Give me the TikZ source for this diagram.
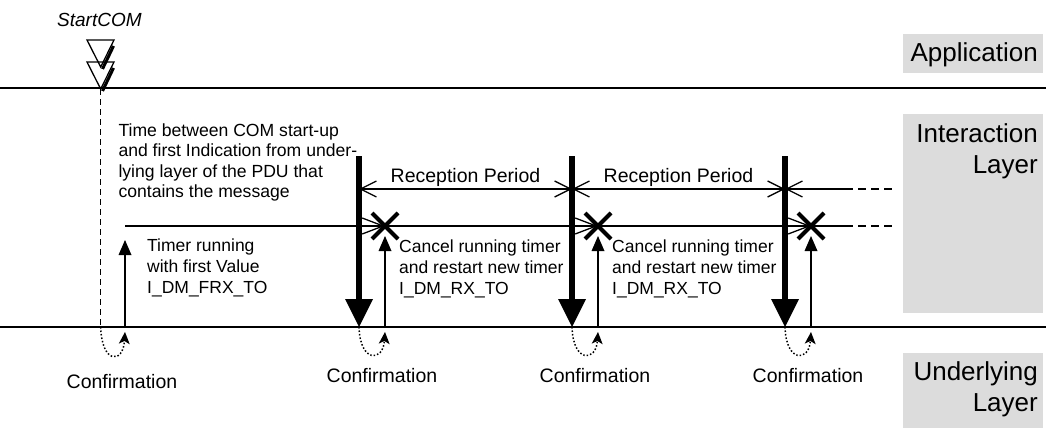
\documentclass[tikz,border=0pt]{standalone}
\usepackage{fontspec}
\setmainfont{Liberation Sans}
\usetikzlibrary{arrows.meta,calc}
\definecolor{panelgray}{RGB}{220,220,220}
\begin{document}
\begin{tikzpicture}[x=1pt,y=-1pt,
  layerline/.style={line width=1.6pt},
  panel/.style={fill=panelgray, draw=none, inner sep=0pt, anchor=north west},
  layertext/.style={font=\fontsize{26}{31}\selectfont, inner sep=0pt, align=right, anchor=base east},
  bodytext/.style={font=\fontsize{17.5}{21}\selectfont, inner sep=0pt, align=left, anchor=base west},
  conftext/.style={font=\fontsize{19.5}{23}\selectfont, inner sep=0pt, anchor=base},
  eventtri/.style={line width=1.3pt, line join=miter},
  eventshadow/.style={line width=3pt},
  startline/.style={line width=1.5pt, dash pattern=on 6pt off 4pt},
  bigarrow/.style={line width=6pt, -{Triangle[length=28pt,width=28pt,line width=0pt]}},
  thinup/.style={line width=1.5pt, -{Triangle[length=15pt,width=13pt,line width=0pt]}},
  confcurve/.style={line width=1.5pt, dash pattern=on 1.5pt off 2pt,
      -{Stealth[length=12pt,width=11pt,inset=3pt,line width=0pt]}},
  period/.style={line width=1.3pt,
      {Straight Barb[length=16pt,width=16pt]}-{Straight Barb[length=16pt,width=16pt]}},
  periodopen/.style={line width=1.3pt, {Straight Barb[length=16pt,width=16pt]}-},
  timer/.style={line width=1.3pt, -{Straight Barb[length=21pt,width=16pt]}},
  plainline/.style={line width=1.3pt},
  tail/.style={line width=1.3pt, dash pattern=on 8pt off 5pt},
  cancelmark/.style={line width=4pt}
]
\useasboundingbox (0,0) rectangle (1046,428);

% layer panels
\node[panel, minimum width=140pt, minimum height=39pt] (appbox) at (903,34) {};
\node[panel, minimum width=140pt, minimum height=199pt] (intbox) at (903,114) {};
\node[panel, minimum width=140pt, minimum height=75pt] (undbox) at (903,353) {};
\node[layertext] (applbl) at (1038,62) {Application};
\node[layertext] (intlbl) at (1038,173) {Interaction\\Layer};
\node[layertext] (undlbl) at (1038,411) {Underlying\\Layer};

% layer boundaries
\coordinate (l1a) at (0,88);   \coordinate (l1b) at (1046,88);
\coordinate (l2a) at (0,327);  \coordinate (l2b) at (1046,327);
\draw[layerline] (l1a) -- (l1b);
\draw[layerline] (l2a) -- (l2b);

% StartCOM event
\node[font=\itshape\fontsize{19}{23}\selectfont, inner sep=0pt, anchor=base west] (startlbl) at (57,26.5) {StartCOM};
\coordinate (ta1) at (87,40);   \coordinate (tb1) at (114,40);  \coordinate (tc1) at (100.7,67);
\coordinate (ta2) at (87,62);   \coordinate (tb2) at (114,62);  \coordinate (tc2) at (100.7,89);
\draw[eventtri] (ta1) -- (tb1) -- (tc1) -- cycle;
\draw[eventtri] (ta2) -- (tb2) -- (tc2) -- cycle;
\coordinate (sh1a) at (113.5,46); \coordinate (sh1b) at (102.5,69);
\coordinate (sh2a) at (113.5,68); \coordinate (sh2b) at (102.5,91);
\draw[eventshadow] (sh1a) -- (sh1b);
\draw[eventshadow] (sh2a) -- (sh2b);

\coordinate (d0) at (100.7,327);
\draw[startline] (tc2) -- (d0);

% first confirmation and timer start
\coordinate (c0) at (125,332);
\coordinate (b0) at (125,327);
\coordinate (t0) at (125,240);
\draw[confcurve] (d0) .. controls (101.7,364) and (123,364) .. (c0);
\draw[thinup] (b0) -- (t0);
\node[conftext] (cf0) at (122,388) {Confirmation};
\node[bodytext] (txt0) at (147,293) {Timer running\\with first Value\\I\_DM\_FRX\_TO};

\node[font=\fontsize{17.6}{20.6}\selectfont, inner sep=0pt, align=left, anchor=base west] (timetxt) at (118.3,197.8)
  {Time between COM start-up\\and first Indication from under-\\lying layer of the PDU that\\contains the message};

% indications
\coordinate (tl0) at (125,226);
\foreach \i/\xt in {1/359,2/572,3/785}{
  \pgfmathsetmacro{\xa}{\xt+26}
  \coordinate (top\i) at (\xt,156);
  \coordinate (bot\i) at (\xt,327);
  \coordinate (rp\i) at (\xt,189);
  \coordinate (X\i) at (\xa,226);
  \coordinate (cb\i) at (\xa,332);
  \coordinate (ab\i) at (\xa,327);
  \coordinate (at\i) at (\xa,236);
}
\coordinate (rend) at (845,189);  \coordinate (rdash) at (892,189);
\coordinate (tend) at (845,226);  \coordinate (tdash) at (892,226);

% reception periods
\draw[period] (rp1) -- (rp2);
\draw[period] (rp2) -- (rp3);
\draw[periodopen] (rp3) -- (rend);
\draw[tail] (rend) -- (rdash);
\node[conftext] (rp1lbl) at (465.5,182) {Reception Period};
\node[conftext] (rp2lbl) at (678.5,182) {Reception Period};

% timer segments
\draw[timer] (tl0) -- (X1);
\draw[timer] (X1) -- (X2);
\draw[timer] (X2) -- (X3);
\draw[plainline] (X3) -- (tend);
\draw[tail] (tend) -- (tdash);

\foreach \i in {1,2,3}{
  \draw[bigarrow] (top\i) -- (bot\i);
  \draw[confcurve] (bot\i) .. controls ($(bot\i)+(1,36)$) and ($(cb\i)+(-2,30)$) .. (cb\i);
  \draw[thinup] (ab\i) -- (at\i);
  \draw[cancelmark] (X\i) ++(-13,-13) -- ++(26,26);
  \draw[cancelmark] (X\i) ++(-13,13) -- ++(26,-26);
}
\node[bodytext] (txt1) at (399,294) {Cancel running timer\\and restart new timer\\I\_DM\_RX\_TO};
\node[bodytext] (txt2) at (612,294) {Cancel running timer\\and restart new timer\\I\_DM\_RX\_TO};

\node[conftext] (cf1) at (382,382) {Confirmation};
\node[conftext] (cf2) at (595,382) {Confirmation};
\node[conftext] (cf3) at (808,382) {Confirmation};
\end{tikzpicture}
\end{document}
